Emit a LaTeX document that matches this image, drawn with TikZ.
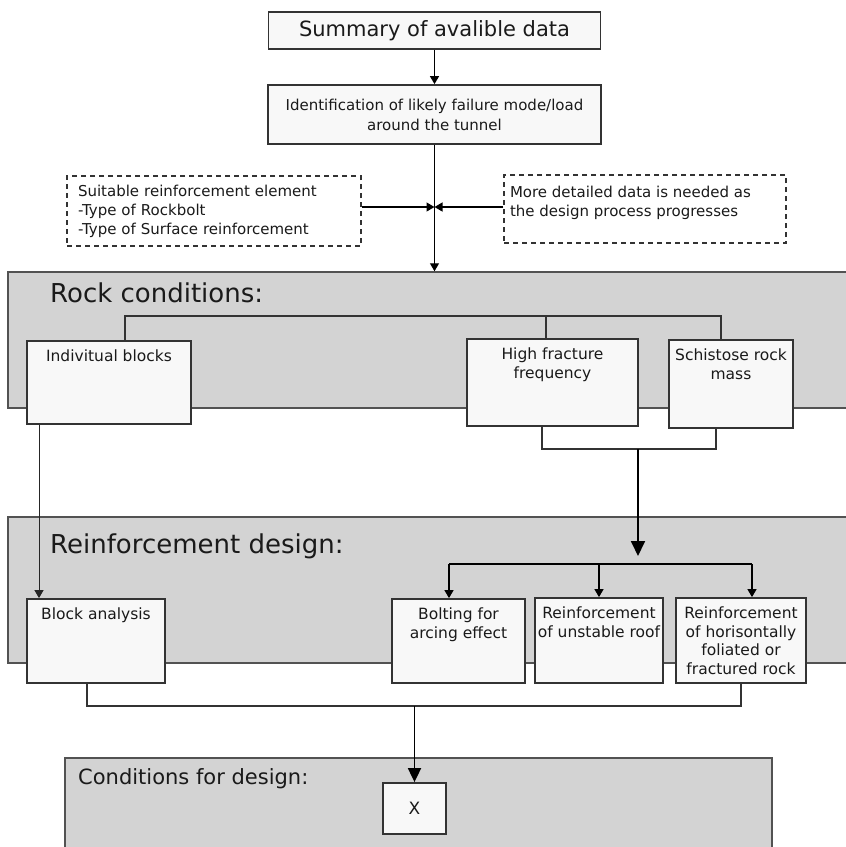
\documentclass[tikz,border=0pt]{standalone}
\usepackage{fontspec}
\setmainfont{DejaVu Sans}
\usetikzlibrary{arrows.meta}
\definecolor{panelgray}{HTML}{D3D3D3}
\definecolor{boxfill}{HTML}{F8F8F8}
\definecolor{edge}{HTML}{333333}
\definecolor{ink}{HTML}{1A1A1A}
% fixed-size box with its text set at the top
\newcommand{\topalign}[3]{\parbox[c][#2][t]{#1}{\centering #3}}

\begin{document}
\begin{tikzpicture}[x=1pt,y=-1pt,
  every node/.style={text=ink},
  panel/.style={draw=edge!85, fill=panelgray, line width=1.5pt, inner sep=0pt},
  box/.style={draw=edge, fill=boxfill, line width=1.8pt, inner xsep=0pt, inner ysep=9pt,
              font=\fontsize{15.5}{18.5}\selectfont},
  note/.style={draw=edge, dash pattern=on 5pt off 4pt, line width=1.2pt, fill=white,
               font=\fontsize{15}{19}\selectfont, align=left},
  title/.style={anchor=base west, inner sep=0pt, font=\fontsize{26}{30}\selectfont},
  brk/.style={draw=edge, line width=1.1pt},
  arr/.style={draw=black, line width=1.3pt, -{Triangle[width=9pt,length=8pt]}},
  thinarr/.style={draw=black!85, line width=1pt, -{Triangle[width=9pt,length=8pt]}},
  bigarr/.style={draw=black, line width=1.8pt, -{Triangle[width=14pt,length=15pt]}},
]
\useasboundingbox (0,0) rectangle (846,847);
\clip (0,0) rectangle (846,847);

% stage panels
\node[panel, minimum width=850, minimum height=136] (rock) at (433,340) {};
\node[panel, minimum width=850, minimum height=146] (rein) at (433,590) {};
\node[panel, minimum width=707, minimum height=102] (cond) at (418.5,809) {};

\node[title] (rockT) at (50,302) {Rock conditions:};
\node[title] (reinT) at (50,553) {Reinforcement design:};
\node[title, font=\fontsize{21}{25}\selectfont] (condT) at (78,784) {Conditions for design:};

% top of the chart
\node[box, inner sep=0pt, minimum width=332, minimum height=37,
      font=\fontsize{21}{25}\selectfont] (sum) at (434.5,30.5) {Summary of avalible data};
\node[box, inner sep=0pt, minimum width=333, minimum height=59, align=center,
      font=\fontsize{15}{20}\selectfont] (id) at (434.5,114.5)
      {Identification of likely failure mode/load\\around the tunnel};

\node[note, text width=272, inner xsep=11, minimum height=70] (dl) at (214,211)
      {Suitable reinforcement element\\-Type of Rockbolt\\-Type of Surface reinforcement};
\node[note, inner xsep=6pt, inner ysep=11pt] (dr) at (645,209)
      {\parbox[c][46pt][t]{270pt}{\raggedright More detailed data is needed as\\the design process progresses}};

\coordinate (j) at (434.5,207);
\draw[arr] (sum.south) -- (id.north);
\draw[arr] (id.south) -- (id.south |- rock.north);
\draw[arr] (dl.east |- j) -- (j);
\draw[arr] (dr.west |- j) -- (j);

% rock condition boxes
\node[box] (ind) at (109,382.5) {\topalign{164pt}{65pt}{Indivitual blocks}};
\node[box] (hf)  at (552.5,382.5) {\topalign{171pt}{69pt}{High fracture\\frequency}};
\node[box] (sch) at (731,384) {\topalign{124pt}{70pt}{Schistose rock\\mass}};

\coordinate (rbar) at (0,316);
\draw[brk] ([xshift=16pt]ind.north) |- ([xshift=-10pt]sch.north |- rbar) -- ([xshift=-10pt]sch.north);
\draw[brk] ([xshift=-6.5pt]hf.north) -- ([xshift=-6.5pt]hf.north |- rbar);

% reinforcement design boxes
\node[box] (ba) at (96,641) {\topalign{138pt}{66pt}{Block analysis}};
\node[box] (bo) at (458.5,641) {\topalign{133pt}{66pt}{Bolting for\\arcing effect}};
\node[box] (ru) at (599,640.5) {\topalign{128pt}{67pt}{Reinforcement\\of unstable roof}};
\node[box] (rh) at (741,640.5) {\topalign{130pt}{67pt}{Reinforcement\\of horisontally\\foliated or\\fractured rock}};

\coordinate (lowbar) at (0,449);
\coordinate (fan) at (638,556);
\draw[brk] ([xshift=-10.5pt]hf.south) |- ([xshift=-15pt]sch.south |- lowbar) -- ([xshift=-15pt]sch.south);
\draw[bigarr] (fan |- lowbar) -- (fan);

\draw[thinarr] ([xshift=-70pt]ind.south) -- ([xshift=-70pt]ind.south |- ba.north);

\coordinate (rbar2) at (0,564);
\draw[black, line width=1.2pt] ([xshift=-9.5pt]bo.north |- rbar2) -- ([xshift=11pt]rh.north |- rbar2);
\draw[arr] ([xshift=-9.5pt]bo.north |- rbar2) -- ([xshift=-9.5pt]bo.north);
\draw[arr] (ru.north |- rbar2) -- (ru.north);
\draw[arr] ([xshift=11pt]rh.north |- rbar2) -- ([xshift=11pt]rh.north);

% conditions for design
\node[box, inner sep=0pt, minimum width=63, minimum height=51,
      font=\fontsize{17}{20}\selectfont] (x) at (414.5,808.5) {X};

\coordinate (bbar) at (0,706);
\draw[brk] ([xshift=-9pt]ba.south) |- (rh.south |- bbar) -- (rh.south);
\draw[bigarr, -{Triangle[width=13pt,length=14pt]}] (x.north |- bbar) -- (x.north);
\end{tikzpicture}
\end{document}
